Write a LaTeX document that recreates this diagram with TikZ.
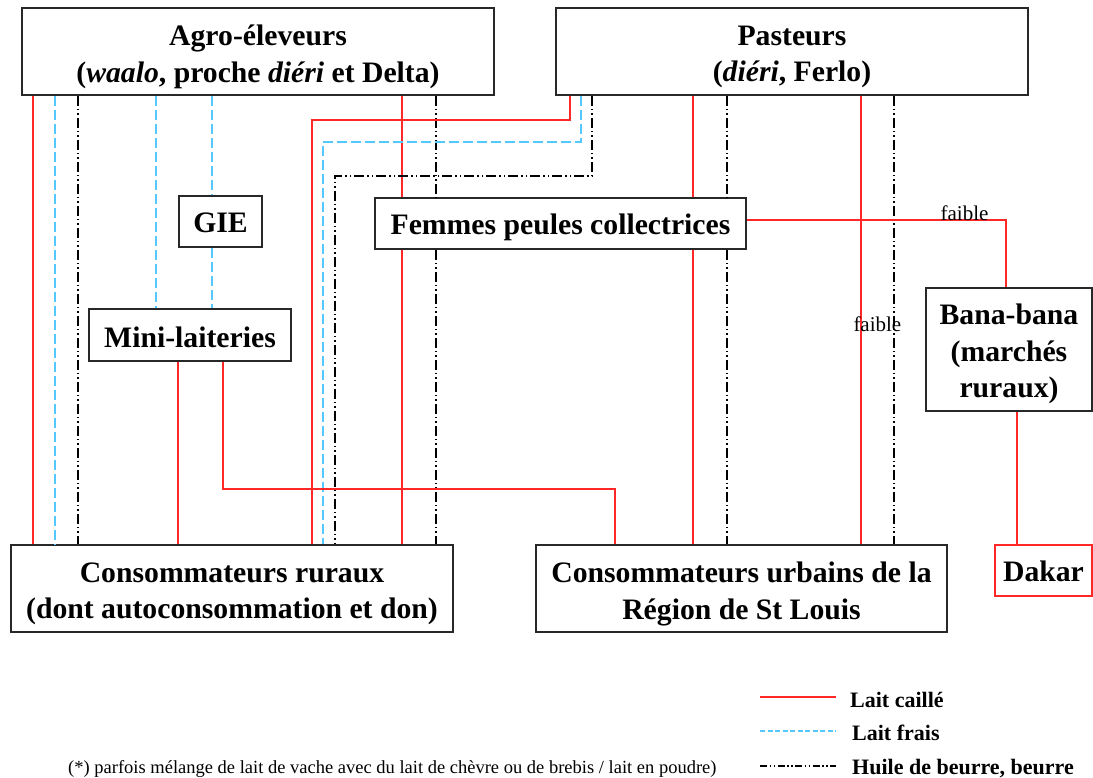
\documentclass[tikz,border=0pt]{standalone}
\usepackage{fontspec}
\setmainfont{Liberation Serif}
\definecolor{lred}{RGB}{255,40,40}
\definecolor{lcyan}{RGB}{85,200,255}
\definecolor{bord}{RGB}{40,40,40}
\tikzset{
  box/.style={draw=bord, line width=1.6pt, fill=white, inner sep=0pt},
  btxt/.style={inner sep=0pt, align=center, font=\fontsize{29.7}{36.5}\selectfont\bfseries},
  caille/.style={draw=lred, line width=1.5pt},
  frais/.style={draw=lcyan, line width=1.6pt, dash pattern=on 10pt off 4pt},
  huile/.style={draw=black, line width=1.25pt, dash pattern=on 10pt off 3pt on 1.5pt off 3pt on 1.5pt off 3pt},
  lbl/.style={font=\fontsize{21}{21}\selectfont, inner sep=0pt},
  leg/.style={font=\fontsize{22}{22}\selectfont\bfseries, anchor=base west, inner sep=0pt},
  foot/.style={font=\fontsize{18.5}{18.5}\selectfont, anchor=base west, inner sep=0pt},
}
\newcommand\vlink[4]{\draw[#1] (#2,0 |- #3.south) -- (#2,0 |- #4.north);}
\begin{document}
\begin{tikzpicture}[x=1pt,y=-1pt]
\useasboundingbox (0,0) rectangle (1093,777);
% boxes
\node[box, minimum width=472pt, minimum height=87pt] (agro) at (258,51.5) {};
\node[btxt] (agroT) at ([yshift=-5.5pt]agro.center)
  {Agro-éleveurs\\(\textit{waalo}, proche \textit{diéri} et Delta)};
\node[box, minimum width=472pt, minimum height=87pt] (past) at (792,51.5) {};
\node[btxt] (pastT) at ([yshift=-5.5pt]past.center) {Pasteurs\\(\textit{diéri}, Ferlo)};
\node[box, minimum width=83pt, minimum height=51pt] (gie) at (220.5,221.5) {};
\node[btxt] (gieT) at ([yshift=-1pt]gie.center) {GIE};
\node[box, minimum width=371pt, minimum height=51pt] (fem) at (560.5,223.5) {};
\node[btxt] (femT) at ([yshift=-4pt]fem.center) {Femmes peules collectrices};
\node[box, minimum width=202pt, minimum height=52pt] (mini) at (190,335) {};
\node[btxt] (miniT) at ([yshift=-2pt]mini.center) {Mini-laiteries};
\node[box, minimum width=166pt, minimum height=123pt] (bana) at (1009,349.5) {};
\node[btxt] (banaT) at ([yshift=-4.5pt]bana.center) {Bana-bana\\(marchés\\ruraux)};
\node[box, minimum width=442pt, minimum height=87pt] (rur) at (232,588.5) {};
\node[btxt] (rurT) at ([yshift=-5.5pt]rur.center) {Consommateurs ruraux\\(dont autoconsommation et don)};
\node[box, minimum width=411pt, minimum height=87pt] (urb) at (741.5,588.5) {};
\node[btxt] (urbT) at ([yshift=-5.5pt]urb.center) {Consommateurs urbains de la\\Région de St Louis};
\node[box, draw=lred, minimum width=97pt, minimum height=51pt] (dakar) at (1043.5,570.5) {};
\node[btxt] (dakarT) at ([yshift=-1pt]dakar.center) {Dakar};
% from Agro-eleveurs
\vlink{caille}{33}{agro}{rur}
\vlink{frais}{55}{agro}{rur}
\vlink{huile}{78}{agro}{rur}
\vlink{frais}{156}{agro}{mini}
\vlink{frais}{212}{agro}{gie}
\vlink{frais}{212}{gie}{mini}
\vlink{caille}{402}{agro}{fem}
\vlink{caille}{402}{fem}{rur}
\vlink{huile}{436}{agro}{fem}
\vlink{huile}{436}{fem}{rur}
% from Pasteurs
\draw[caille] (570,0 |- past.south) -- (570,120) -- (312,120) -- (312,0 |- rur.north);
\draw[frais] (581,0 |- past.south) -- (581,142) -- (323,142) -- (323,0 |- rur.north);
\draw[huile] (592,0 |- past.south) -- (592,176) -- (335,176) -- (335,0 |- rur.north);
\vlink{caille}{693}{past}{fem}
\vlink{caille}{693}{fem}{urb}
\vlink{huile}{727}{past}{fem}
\vlink{huile}{727}{fem}{urb}
\vlink{caille}{861}{past}{urb}
\vlink{huile}{894}{past}{urb}
% from Femmes
\draw[caille] (fem.east |- 0,220) -- (1006,220) -- (1006,0 |- bana.north);
\node[lbl, anchor=base] (f1) at (964.5,220.5) {faible};
\node[lbl, anchor=base] (f2) at (877.4,331.5) {faible};
% from Mini-laiteries
\vlink{caille}{178}{mini}{rur}
\draw[caille] (223,0 |- mini.south) -- (223,489) -- (615,489) -- (615,0 |- urb.north);
% from Bana-bana
\vlink{caille}{1017}{bana}{dakar}
% legend
\coordinate (l1a) at (760,697); \coordinate (l1b) at (836,697);
\coordinate (l2a) at (760,731); \coordinate (l2b) at (836,731);
\coordinate (l3a) at (760,766); \coordinate (l3b) at (836,766);
\draw[caille] (l1a) -- (l1b);
\draw[frais, line width=1.2pt, dash pattern=on 5pt off 2.5pt] (l2a) -- (l2b);
\draw[huile, dash pattern=on 7pt off 2.5pt on 1.5pt off 2.5pt on 1.5pt off 2.5pt] (l3a) -- (l3b);
\node[leg] (t1) at (850,707.5) {Lait caillé};
\node[leg] (t2) at (852,740.5) {Lait frais};
\node[leg] (t3) at (852,774) {Huile de beurre, beurre};
\node[foot] (fn) at (68,773) {(*) parfois mélange de lait de vache avec du lait de chèvre ou de brebis / lait en poudre)};
\end{tikzpicture}
\end{document}
